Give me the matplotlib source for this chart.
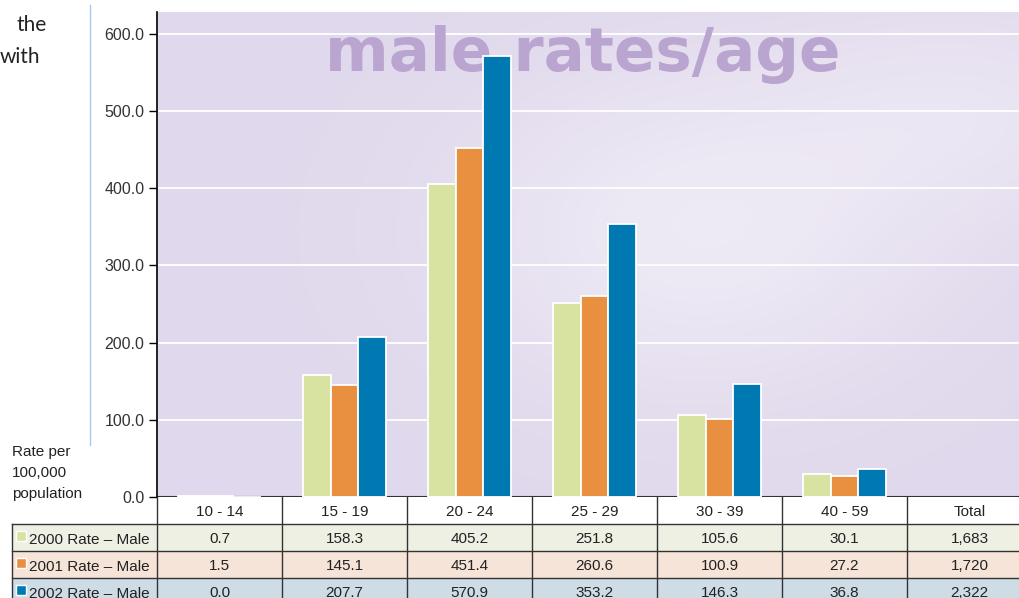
import numpy as np
import matplotlib.pyplot as plt
from matplotlib.lines import Line2D
from matplotlib.patches import Rectangle

# data
ages = ["10 - 14", "15 - 19", "20 - 24", "25 - 29", "30 - 39", "40 - 59"]
columns = ages + ["Total"]
rate_2000 = [0.7, 158.3, 405.2, 251.8, 105.6, 30.1]
rate_2001 = [1.5, 145.1, 451.4, 260.6, 100.9, 27.2]
rate_2002 = [0.0, 207.7, 570.9, 353.2, 146.3, 36.8]
totals = ["1,683", "1,720", "2,322"]
series_names = ["2000 Rate \u2013 Male", "2001 Rate \u2013 Male", "2002 Rate \u2013 Male"]
yticks = [0, 100, 200, 300, 400, 500, 600]

colors = ["#d8e2a1", "#e98f40", "#0078b2"]
row_bg = ["#eef0e4", "#f6e4d8", "#cedce6"]
plt.rcParams["font.family"] = ["Liberation Sans", "DejaVu Sans"]

W, H = 1020, 598
fig = plt.figure(figsize=(W / 100, H / 100), dpi=100)

# main chart, it runs off the right edge like the original
ax = fig.add_axes([157 / W, (H - 497) / H, 875 / W, 485 / H])
ax.set_xlim(-0.5, 6.5)
ax.set_ylim(0, 628)

# soft lavender background
gx, gy = np.meshgrid(np.linspace(0, 1, 300), np.linspace(0, 1, 200))
blob = np.exp(-((gx - 0.62) ** 2 / 0.08 + (gy - 0.55) ** 2 / 0.12))
blob += 0.6 * np.exp(-((gx - 0.95) ** 2 / 0.05 + (gy - 0.8) ** 2 / 0.05))
blob = np.clip(blob, 0, 1)[..., None]
c1 = np.array([0xe0, 0xd8, 0xec]) / 255
c2 = np.array([0xee, 0xea, 0xf5]) / 255
ax.imshow(c1 + (c2 - c1) * blob, extent=[-0.5, 6.5, 0, 628], aspect="auto",
          origin="lower", zorder=0)

ax.set_yticks(yticks)
ax.set_yticklabels([f"{v:.1f}" for v in yticks], color="#333333", fontsize=11.5)
ax.tick_params(axis="y", length=6, width=1, pad=3)
ax.set_xticks([])
ax.grid(axis="y", color="white", lw=1.3, zorder=0.5)
ax.set_axisbelow(True)
for s in ["top", "right", "bottom"]:
    ax.spines[s].set_visible(False)
ax.spines["left"].set_linewidth(1.2)
ax.axhline(0, color="#333333", lw=1.5, zorder=1.5)

ax.text(2.904, 551, "male rates/age", ha="center", va="baseline",
        fontsize=44, fontweight="heavy", family="DejaVu Sans",
        color="#b9a5cf", zorder=1)

x = np.arange(len(ages))
bw = 0.22
for i, vals in enumerate([rate_2000, rate_2001, rate_2002]):
    ax.bar(x + (i - 1) * bw, vals, bw, color=colors[i], edgecolor="white",
           lw=1.3, zorder=2)

# data table under the chart
tax = fig.add_axes([157 / W, (H - 605) / H, 875 / W, 108 / H])
tax.set_xlim(-0.5, 6.5)
tax.set_ylim(4, 0)
tax.axis("off")
left = -1.66
for r in range(3):
    tax.add_patch(Rectangle((left, r + 1), 6.5 - left, 1, facecolor=row_bg[r],
                            edgecolor="none", clip_on=False))
for yy in [1, 2, 3]:
    tax.add_artist(Line2D([left, 6.5], [yy, yy], color="#333333", lw=1, clip_on=False))
for xx in np.arange(-0.5, 6.5, 1):
    tax.add_artist(Line2D([xx, xx], [0, 4], color="#333333", lw=1, clip_on=False))
tax.add_artist(Line2D([left, left], [1, 4], color="#333333", lw=1, clip_on=False))

for j, name in enumerate(columns):
    tax.text(j, 0.55, name, ha="center", va="center", fontsize=11, color="#222222")
for r, vals in enumerate([rate_2000, rate_2001, rate_2002]):
    cells = [f"{v:.1f}" for v in vals] + [totals[r]]
    for j, txt in enumerate(cells):
        tax.text(j, r + 1.55, txt, ha="center", va="center", fontsize=11, color="#222222")
    tax.plot([-1.592], [r + 1.45], marker="s", ms=7.5, color=colors[r],
             mec="white", mew=1, clip_on=False)
    tax.text(-1.524, r + 1.6, series_names[r], ha="left", va="center",
             fontsize=11, color="#222222", clip_on=False)

fig.text(12 / W, 1 - 445 / H, "Rate per\n100,000\npopulation", ha="left", va="top",
         fontsize=11, color="#222222", linespacing=1.65)

# bits of the page around the chart
fig.add_artist(Line2D([90 / W, 90 / W], [1 - 5 / H, 1 - 445 / H], color="#a9c9ec", lw=1))
fig.text(17 / W, 1 - 25 / H, "the", ha="left", va="center", fontsize=15,
         family="Lato", color="#222222")
fig.text(0 / W, 1 - 57 / H, "with", ha="left", va="center", fontsize=15,
         family="Lato", color="#222222")

fig.savefig("out.png", dpi=100)
